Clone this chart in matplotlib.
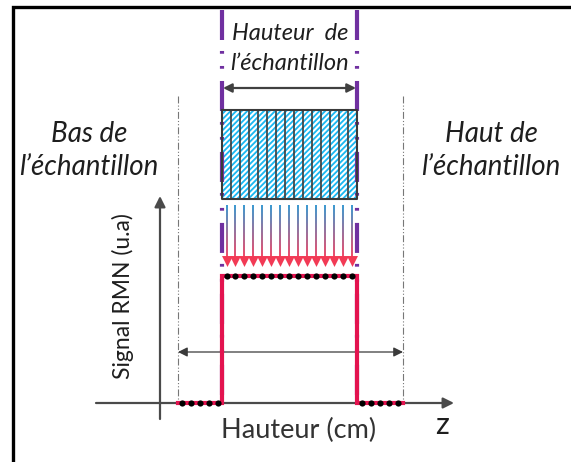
import numpy as np
import matplotlib
matplotlib.use("Agg")
import matplotlib.pyplot as plt
from matplotlib.collections import LineCollection
from matplotlib.patches import Rectangle
from matplotlib.colors import to_rgb

plt.rcParams['lines.scale_dashes'] = False
plt.rcParams['hatch.linewidth'] = 1.5
plt.rcParams['font.family'] = ['Lato', 'DejaVu Sans']

# ---- data (schematic coordinates: z along x, signal along y, image-like units) ----
sample_edges = [222, 357]            # z position of sample bottom / top
probe_edges = [178, 403]             # z limits of the probe region
signal_z = [178, 222, 222, 357, 357, 403]
signal_level = [403, 403, 276, 276, 403, 403]
dots_low_left = [182, 191, 200, 209, 218]
dots_high = [226.5 + 8.95 * i for i in range(15)]
dots_low_right = [362, 371, 380, 389, 398]
arrow_z = dots_high
strip_edges = [222 + 9 * i for i in range(16)]

PURPLE = '#7030A0'
RED = '#E3134F'
AXC = '#4A4A4A'
TXT = '#1E1E1E'

fig = plt.figure(figsize=(5.71, 4.62), dpi=100)
ax = fig.add_axes([0, 0, 1, 1])
ax.set_xlim(0, 571)
ax.set_ylim(462, 0)
ax.axis('off')

# frame (left and top)
ax.plot([13, 13, 571], [462, 7, 7], color='black', lw=2.4, solid_joinstyle='miter')

# thin probe limits
for zx in probe_edges:
    ax.plot([zx, zx], [96, 403], color='#777777', lw=0.8,
            dashes=(5, 1.5, 0.8, 1.5, 0.8, 1.5))

# purple sample limits
for zx in sample_edges:
    ax.plot([zx, zx], [10, 405], color=PURPLE, lw=3.0, solid_capstyle='butt',
            dash_capstyle='butt', dashes=(21.6, 7.9, 2.0, 8.8, 2.0, 8.8))

# sample height arrow
ax.annotate('', xy=(sample_edges[0] + 1, 88), xytext=(sample_edges[1] - 1, 88),
            arrowprops=dict(arrowstyle='<|-|>', color='#404040', lw=1.6,
                            mutation_scale=13, shrinkA=0, shrinkB=0))

# hatched sample
ax.add_patch(Rectangle((sample_edges[0], 110), sample_edges[1] - sample_edges[0], 89,
                       facecolor='#1AB8F2', edgecolor='white', hatch='//////', lw=0))
ax.vlines(strip_edges, 110, 199, color='#3A3A3A', lw=1.2)
ax.plot([sample_edges[0], sample_edges[1], sample_edges[1], sample_edges[0], sample_edges[0]],
        [110, 110, 199, 199, 110], color='#3A3A3A', lw=1.5)

# gradient arrows
top_c = np.array(to_rgb('#2A8FCB'))
bot_c = np.array(to_rgb('#F2385A'))
n = 30
ys = np.linspace(205, 258, n + 1)
segs, cols = [], []
for zx in arrow_z:
    for i in range(n):
        segs.append([(zx, ys[i]), (zx, ys[i + 1])])
        t = i / (n - 1)
        cols.append(top_c * (1 - t) + bot_c * t)
ax.add_collection(LineCollection(segs, colors=cols, linewidths=1.3))
ax.scatter(arrow_z, [261] * len(arrow_z), marker='v', s=62, color='#F23A55', lw=0, zorder=3)

# axes of the profile
ax.annotate('', xy=(160, 196), xytext=(160, 419),
            arrowprops=dict(arrowstyle='-|>', color=AXC, lw=1.6,
                            mutation_scale=16, shrinkA=0, shrinkB=0))
ax.annotate('', xy=(454, 403), xytext=(96, 403),
            arrowprops=dict(arrowstyle='-|>', color=AXC, lw=1.6,
                            mutation_scale=16, shrinkA=0, shrinkB=0))

# probe width arrow
ax.annotate('', xy=(probe_edges[0], 352), xytext=(probe_edges[1], 352),
            arrowprops=dict(arrowstyle='<|-|>', color='#3A3A3A', lw=0.9,
                            mutation_scale=14, shrinkA=0, shrinkB=0))

# signal profile
ax.plot(signal_z, signal_level, color=RED, lw=3.0, solid_joinstyle='miter', zorder=4)
ax.scatter(dots_low_left + dots_high + dots_low_right,
           [403] * 5 + [276] * 15 + [403] * 5, s=20, color='black', lw=0, zorder=5)

# texts
ax.text(290, 33, 'Hauteur  de', style='italic', fontsize=17, color=TXT, ha='center', va='center')
ax.text(290, 63, 'l\u2019échantillon', style='italic', fontsize=17, color=TXT, ha='center', va='center')
ax.text(89, 134, 'Bas de', style='italic', fontsize=20, color=TXT, ha='center', va='center')
ax.text(89, 167, 'l\u2019échantillon', style='italic', fontsize=20, color=TXT, ha='center', va='center')
ax.text(491, 134, 'Haut de', style='italic', fontsize=20, color=TXT, ha='center', va='center')
ax.text(491, 167, 'l\u2019échantillon', style='italic', fontsize=20, color=TXT, ha='center', va='center')
ax.text(123, 296, 'Signal RMN (u.a)', rotation=90, fontsize=16.5, color=TXT, ha='center', va='center')
ax.text(299, 430, 'Hauteur (cm)', fontsize=19.5, color='#333333', ha='center', va='center')
ax.text(442, 425, 'z', fontsize=22, color=TXT, ha='center', va='center')

fig.savefig('out.png', dpi=100)
